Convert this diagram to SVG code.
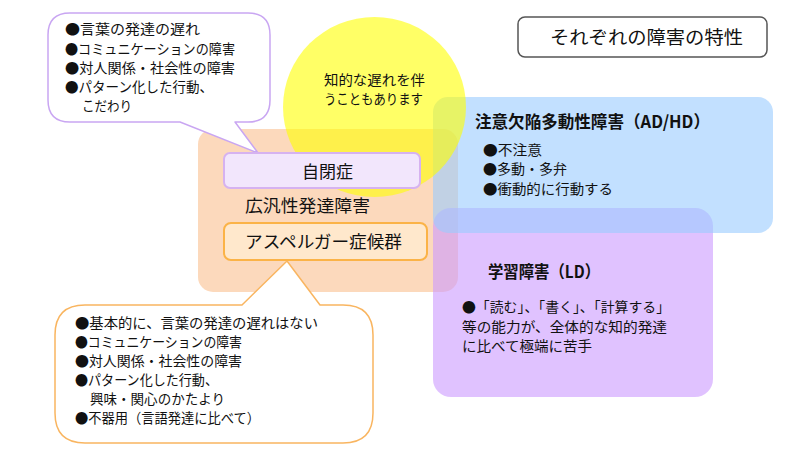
<svg xmlns="http://www.w3.org/2000/svg" width="808" height="466" viewBox="0 0 808 466">
<style>
  text { font-family: "Noto Sans CJK JP", "Noto Sans", sans-serif; fill: #111; }
  .s14 { font-size: 14px; }
  .s17 { font-size: 17px; }
  .h { font-size: 17px; font-weight: 700; }
  .title { font-size: 18px; }
  .bubble { fill: #ffffff; stroke-width: 1.5; stroke-linejoin: round; }
</style>
<rect width="808" height="466" fill="#ffffff"/>

<g id="pdd">
  <rect x="198" y="129" width="260" height="163" rx="15" fill="#FAC090" fill-opacity="0.6"/>
</g>

<g id="ld">
  <rect x="433" y="208" width="280" height="189" rx="18" fill="#CC99FF" fill-opacity="0.6"/>
  <text class="h" x="488" y="278" textLength="112" lengthAdjust="spacingAndGlyphs">学習障害（LD）</text>
  <text class="s14" x="462" y="312" textLength="208" lengthAdjust="spacingAndGlyphs">●「読む」、「書く」、「計算する」</text>
  <text class="s14" x="462" y="332" textLength="205" lengthAdjust="spacingAndGlyphs">等の能力が、全体的な知的発達</text>
  <text class="s14" x="462" y="351" textLength="130" lengthAdjust="spacingAndGlyphs">に比べて極端に苦手</text>
</g>

<g id="adhd">
  <rect x="433" y="97" width="340" height="136" rx="15" fill="#99CCFF" fill-opacity="0.6"/>
  <text class="h" x="475" y="128" textLength="235" lengthAdjust="spacingAndGlyphs">注意欠陥多動性障害（AD/HD）</text>
  <text class="s14" x="483" y="155" textLength="59" lengthAdjust="spacingAndGlyphs">●不注意</text>
  <text class="s14" x="483" y="174" textLength="84" lengthAdjust="spacingAndGlyphs">●多動・多弁</text>
  <text class="s14" x="483" y="194" textLength="130" lengthAdjust="spacingAndGlyphs">●衝動的に行動する</text>
</g>

<g id="intellectual">
  <ellipse cx="374.5" cy="107" rx="91.5" ry="90" fill="#FFFF00" fill-opacity="0.6"/>
  <text class="s14" x="324" y="85" textLength="101" lengthAdjust="spacingAndGlyphs">知的な遅れを伴</text>
  <text class="s14" x="324" y="104" textLength="99" lengthAdjust="spacingAndGlyphs">うこともあります</text>
</g>

<g id="pdd-label">
  <text class="s17" x="245" y="212" textLength="125" lengthAdjust="spacingAndGlyphs">広汎性発達障害</text>
</g>

<g id="autism-callout">
  <path class="bubble" stroke="#C9A6F2" d="M70,13 H248 Q270,13 270,35 V100 Q270,122 248,122 H235 L258,153 L180,122 H70 Q48,122 48,100 V35 Q48,13 70,13 Z"/>
  <text class="s14" x="65" y="34" textLength="135" lengthAdjust="spacingAndGlyphs">●言葉の発達の遅れ</text>
  <text class="s14" x="65" y="54" textLength="170" lengthAdjust="spacingAndGlyphs">●コミュニケーションの障害</text>
  <text class="s14" x="65" y="73" textLength="170" lengthAdjust="spacingAndGlyphs">●対人関係・社会性の障害</text>
  <text class="s14" x="65" y="92" textLength="148" lengthAdjust="spacingAndGlyphs">●パターン化した行動、</text>
  <text class="s14" x="82" y="111" textLength="50" lengthAdjust="spacingAndGlyphs">こだわり</text>
</g>

<g id="asperger-callout">
  <path class="bubble" stroke="#F9B560" d="M85,305 H242 L287,261 L320,305 H343 Q373,305 373,335 V413 Q373,443 343,443 H85 Q55,443 55,413 V335 Q55,305 85,305 Z"/>
  <text class="s14" x="75" y="328" textLength="243" lengthAdjust="spacingAndGlyphs">●基本的に、言葉の発達の遅れはない</text>
  <text class="s14" x="75" y="347" textLength="167" lengthAdjust="spacingAndGlyphs">●コミュニケーションの障害</text>
  <text class="s14" x="75" y="366" textLength="167" lengthAdjust="spacingAndGlyphs">●対人関係・社会性の障害</text>
  <text class="s14" x="75" y="385" textLength="143" lengthAdjust="spacingAndGlyphs">●パターン化した行動、</text>
  <text class="s14" x="90" y="404" textLength="135" lengthAdjust="spacingAndGlyphs">興味・関心のかたより</text>
  <text class="s14" x="75" y="423" textLength="185" lengthAdjust="spacingAndGlyphs">●不器用（言語発達に比べて）</text>
</g>

<g id="autism">
  <rect x="224" y="153" width="196" height="35" rx="6" fill="#F2E6FC" stroke="#D6B2F0" stroke-width="2"/>
  <text class="s17" x="327.5" y="178" text-anchor="middle">自閉症</text>
</g>

<g id="asperger">
  <rect x="224" y="223" width="203" height="37" rx="7" fill="#FFE8CC" stroke="#FBB347" stroke-width="2"/>
  <text class="s17" x="245" y="248" textLength="157" lengthAdjust="spacingAndGlyphs">アスペルガー症候群</text>
</g>

<g id="title">
  <rect x="518" y="17" width="249" height="40" rx="7" fill="#ffffff" stroke="#555555" stroke-width="1.5"/>
  <text class="title" x="550" y="44" textLength="193" lengthAdjust="spacingAndGlyphs">それぞれの障害の特性</text>
</g>

<g id="connectors"></g>
</svg>
